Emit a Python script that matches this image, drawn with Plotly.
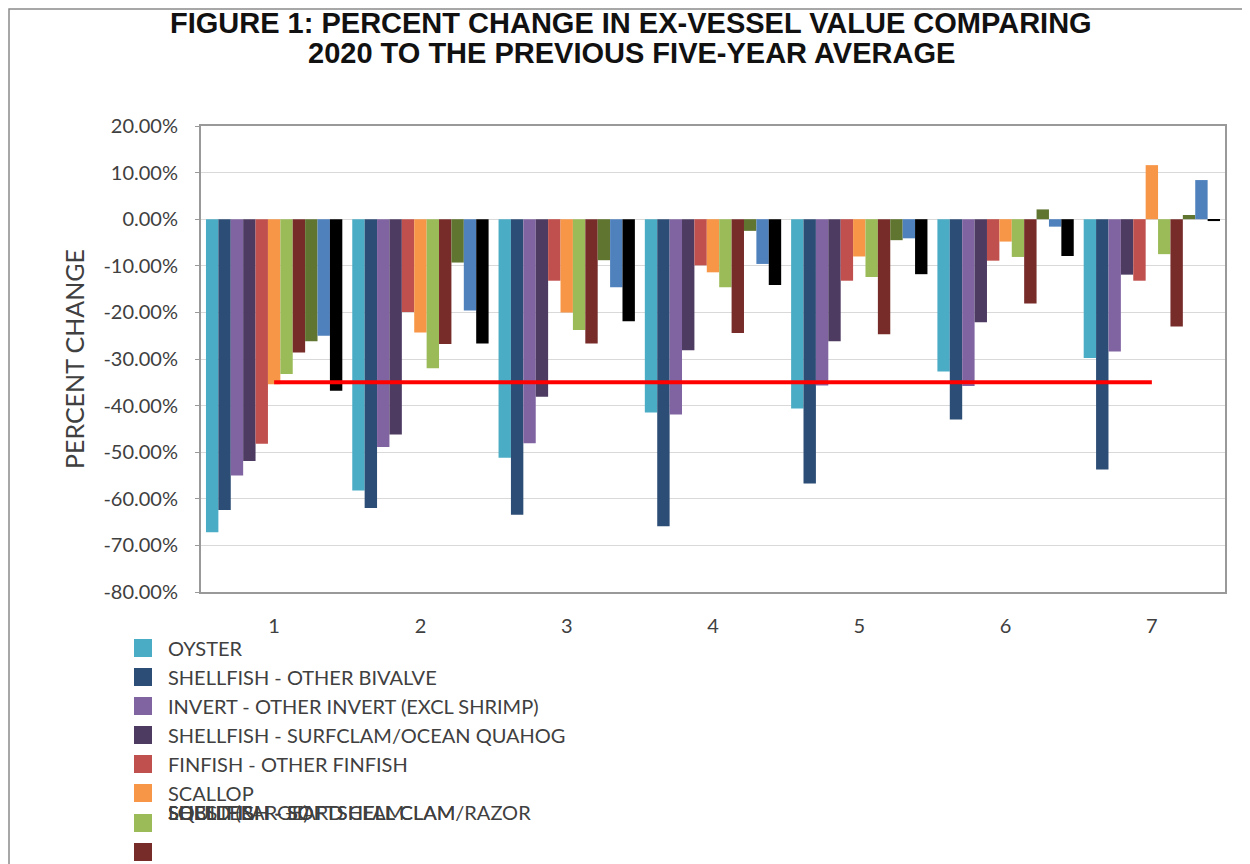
import plotly.graph_objects as go

categories = ["1", "2", "3", "4", "5", "6", "7"]

series_names = [
    "OYSTER",
    "SHELLFISH - OTHER BIVALVE",
    "INVERT - OTHER INVERT (EXCL SHRIMP)",
    "SHELLFISH - SURFCLAM/OCEAN QUAHOG",
    "FINFISH - OTHER FINFISH",
    "SCALLOP",
    "SHELLFISH - HARD CLAM",
    "SQUID (LARGE)",
    "LOBSTER",
    "SHELLFISH - SOFTSHELL CLAM",
    "SHELLFISH - SOFTSHELL CLAM/RAZOR",
]

series_colors = ["#4BACC6", "#2C4D75", "#8064A2", "#4D3B62", "#C0504D", "#F79646",
                 "#9BBB59", "#772C2A", "#5F7530", "#4F81BD", "#000000"]

oyster = [-67.2, -58.2, -51.2, -41.5, -40.6, -32.7, -29.8]
bivalve = [-62.4, -62.0, -63.4, -65.9, -56.7, -43.0, -53.7]
invert = [-55.0, -48.9, -48.1, -41.9, -35.7, -35.8, -28.4]
surfclam = [-51.9, -46.2, -38.1, -28.1, -26.2, -22.1, -11.9]
finfish = [-48.2, -19.9, -13.2, -9.9, -13.2, -8.9, -13.2]
scallop = [-35.4, -24.3, -20.0, -11.4, -8.0, -4.8, 11.6]
hard_clam = [-33.2, -32.0, -23.8, -14.6, -12.4, -8.1, -7.5]
squid = [-28.6, -26.8, -26.7, -24.4, -24.7, -18.1, -23.0]
lobster = [-26.2, -9.3, -8.8, -2.5, -4.5, 2.1, 0.9]
softshell = [-25.0, -19.6, -14.6, -9.6, -4.1, -1.6, 8.4]
razor = [-36.8, -26.7, -21.9, -14.1, -11.8, -7.9, -0.4]

series_values = [oyster, bivalve, invert, surfclam, finfish, scallop,
                 hard_clam, squid, lobster, softshell, razor]

threshold = [-35, -35, -35, -35, -35, -35, -35]

y_tick_values = [20, 10, 0, -10, -20, -30, -40, -50, -60, -70, -80]
y_tick_labels = ["20.00%", "10.00%", "0.00%", "-10.00%", "-20.00%", "-30.00%",
                 "-40.00%", "-50.00%", "-60.00%", "-70.00%", "-80.00%"]

# page offset (browser body margin)
OFF = 8
W_PX, H_PX = 1250, 864
# target plot area in screen pixels
SL, SR, ST, SB = 201, 1225, 126, 592
L = SL - OFF
T = ST - OFF
R = W_PX - (SR - OFF)
B = H_PX - (SB - OFF)
PW = SR - SL
PH = SB - ST


def px(xs):
    return (xs - SL) / PW


def py(ys):
    return (SB - ys) / PH


fig = go.Figure()
for name, vals, col in zip(series_names, series_values, series_colors):
    fig.add_trace(go.Bar(x=categories, y=vals, name=name, marker_color=col,
                         marker_line_width=0, showlegend=False))

fig.add_trace(go.Scatter(x=categories, y=threshold, mode="lines",
                         line=dict(color="#FF0000", width=4), showlegend=False))

TXT = "Lato"
TXTC = "#404040"
shapes = []
annotations = []

# outer chart border
shapes.append(dict(type="rect", xref="paper", yref="paper",
                   x0=px(OFF + 1), x1=px(1300), y0=py(OFF + 1), y1=py(900),
                   line=dict(color="#8a8a8a", width=1.5), layer="below"))

# title (two lines)
for txt, ys in [("FIGURE 1: PERCENT CHANGE IN EX-VESSEL VALUE COMPARING", 23),
                ("2020 TO THE PREVIOUS FIVE-YEAR AVERAGE", 53)]:
    annotations.append(dict(text="<b>" + txt + "</b>", xref="paper", yref="paper",
                            x=px(631), y=py(ys), xanchor="center", yanchor="middle",
                            showarrow=False,
                            font=dict(family="Liberation Sans", size=29, color="#111111")))

# manual legend
leg_rows = [648, 677, 706, 735, 764, 793, 823, 852]
for i, col in enumerate(series_colors[:8]):
    yc = leg_rows[i]
    shapes.append(dict(type="rect", xref="paper", yref="paper",
                       x0=px(134), x1=px(152), y0=py(yc - 9), y1=py(yc + 9),
                       fillcolor=col, line=dict(width=0)))
for i, name in enumerate(series_names[:6]):
    annotations.append(dict(text=name, xref="paper", yref="paper",
                            x=px(166), y=py(leg_rows[i]), xanchor="left", yanchor="middle",
                            showarrow=False, font=dict(family=TXT, size=20, color=TXTC)))
for name in series_names[6:]:
    annotations.append(dict(text=name, xref="paper", yref="paper",
                            x=px(166), y=py(812), xanchor="left", yanchor="middle",
                            showarrow=False, font=dict(family=TXT, size=20, color=TXTC)))

fig.update_layout(
    width=W_PX, height=H_PX,
    margin=dict(l=L, r=R, t=T, b=B),
    paper_bgcolor="white", plot_bgcolor="white",
    barmode="group", bargap=0.068, bargroupgap=0,
    shapes=shapes,
    annotations=annotations,
    showlegend=False,
)

fig.update_yaxes(range=[-80, 20], tickmode="array", tickvals=y_tick_values, ticktext=y_tick_labels,
                 showgrid=True, gridcolor="#d9d9d9", gridwidth=1,
                 zeroline=False, showline=True, linecolor="#999999", linewidth=2, mirror=True,
                 ticks="outside", ticklen=4, tickcolor="#999999",
                 ticklabelstandoff=13,
                 tickfont=dict(family=TXT, size=20, color=TXTC),
                 title=dict(text="PERCENT CHANGE", standoff=12,
                            font=dict(family=TXT, size=25, color=TXTC)))
fig.update_xaxes(type="category", showgrid=False, showline=True, linecolor="#999999",
                 linewidth=2, mirror=True, ticks="", ticklabelstandoff=15,
                 tickfont=dict(family=TXT, size=20, color=TXTC))

fig.write_html("out.html")
